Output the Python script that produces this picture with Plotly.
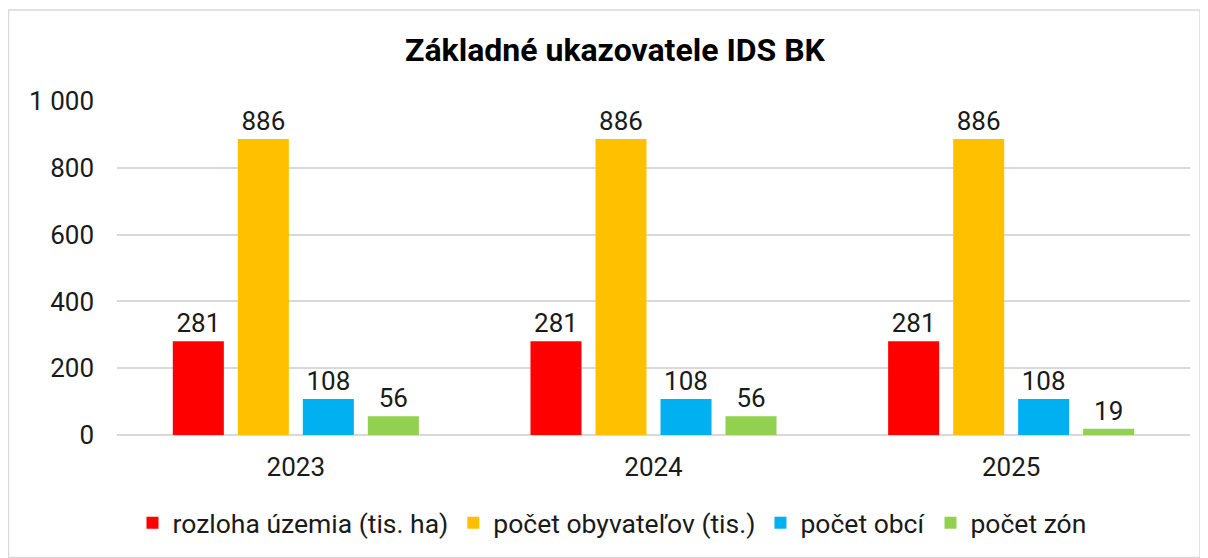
import plotly.graph_objects as go

years = ["2023", "2024", "2025"]
series_names = ["rozloha územia (tis. ha)", "počet obyvateľov (tis.)", "počet obcí", "počet zón"]
rozloha = [281, 281, 281]
obyvatelia = [886, 886, 886]
obce = [108, 108, 108]
zony = [56, 56, 19]
colors = ["#FF0000", "#FFC000", "#00B0F0", "#92D050"]
tick_vals = [0, 200, 400, 600, 800, 1000]
tick_text = ["0", "200", "400", "600", "800", "1 000"]

fig = go.Figure()
for name, vals, col in zip(series_names, [rozloha, obyvatelia, obce, zony], colors):
    fig.add_trace(go.Bar(
        x=years, y=vals, name=name, marker=dict(color=col, line=dict(width=0)),
        text=[str(v) for v in vals], textposition="outside",
        textfont=dict(family="Roboto", size=26, color="#1a1a1a"),
        cliponaxis=False,
    ))

# page is offset by 8px body margin; figure coords = page coords - 8
W, H = 1200, 550
ml, mr, mt, mb = 109, 18, 93, 123
pw, ph = W - ml - mr, H - mt - mb

def px(x):
    return (x - ml) / pw

def py(y):
    return (H - mb - y) / ph

fig.update_layout(
    width=W, height=H,
    margin=dict(l=ml, r=mr, t=mt, b=mb, autoexpand=False),
    paper_bgcolor="white", plot_bgcolor="white",
    barmode="group", bargap=0.273, bargroupgap=0.215,
    title=dict(text="<b>Základné ukazovatele IDS BK</b>", x=px(607), xanchor="center",
               xref="paper",
               y=1 - 42 / H, yanchor="middle",
               font=dict(family="Roboto", size=32, color="#000000")),
    font=dict(family="Roboto", size=26, color="#1a1a1a"),
    xaxis=dict(showgrid=False, showline=False, ticks="", ticklabelstandoff=14,
               tickfont=dict(size=26, color="#1a1a1a")),
    yaxis=dict(range=[0, 1000], tickvals=tick_vals, ticktext=tick_text,
               showgrid=True, gridcolor="#d9d9d9", gridwidth=1.5,
               zeroline=True, zerolinecolor="#d9d9d9", zerolinewidth=1.5,
               showline=False, ticks="", ticklabelstandoff=22,
               tickfont=dict(size=26, color="#1a1a1a")),
    legend=dict(orientation="h", x=px(604), xanchor="center", y=py(515), yanchor="middle",
                font=dict(family="Roboto", size=26.5, color="#1a1a1a"),
                itemwidth=30, traceorder="normal"),
    shapes=[dict(type="rect", xref="paper", yref="paper",
                 x0=px(0.5), x1=px(1192), y0=py(549.5), y1=py(2),
                 line=dict(color="#d9d9d9", width=1.5), fillcolor="rgba(0,0,0,0)", layer="below")],
)

fig.write_html("out.html")
